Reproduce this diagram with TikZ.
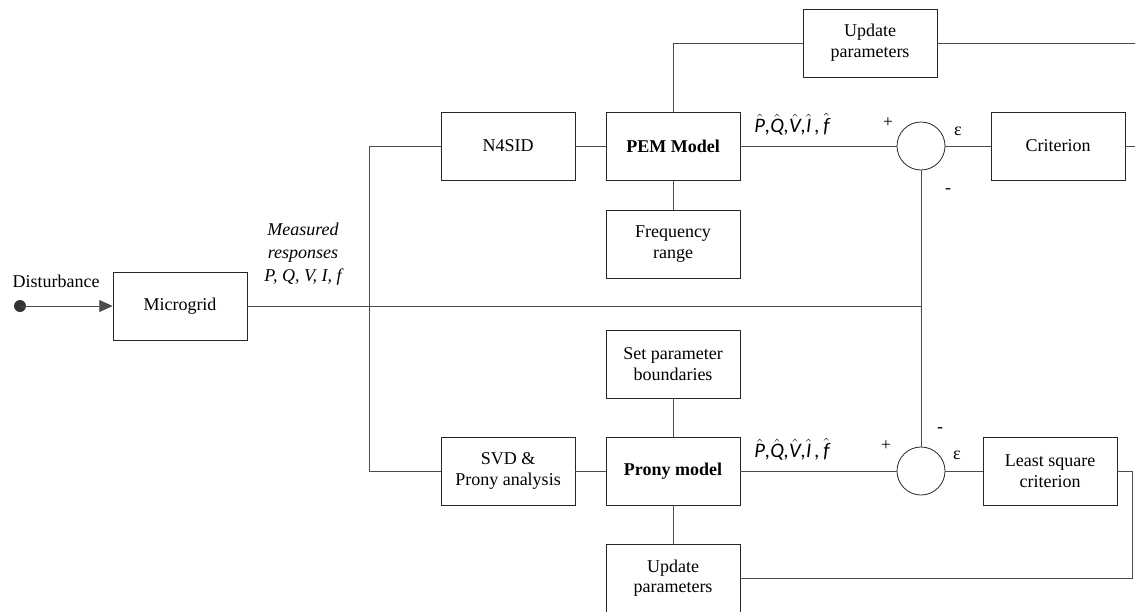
\documentclass[tikz,border=0pt]{standalone}
\usepackage{fontspec}
\setmainfont{Liberation Serif}
\newfontfamily\calfont{Carlito}
\usetikzlibrary{calc, positioning}
\usetikzlibrary{arrows.meta}
\newcommand{\hatch}[1]{$\hat{\mbox{#1}}$}

\begin{document}
\begin{tikzpicture}[x=0.75pt, y=-0.75pt,
  block/.style={draw=black!85, line width=0.6pt, minimum width=100.5pt, minimum height=51pt,
    align=center, inner sep=1pt, font=\fontsize{13.5}{15.5}\selectfont},
  sumnode/.style={draw=black!85, line width=0.6pt, circle, minimum size=36pt, inner sep=0pt},
  link/.style={draw=black!70, line width=0.6pt},
  lbl/.style={font=\fontsize{13.5}{15.5}\selectfont, inner sep=0pt},
  est/.style={font=\fontsize{15.5}{17}\selectfont\calfont\itshape, inner sep=0pt}]
\useasboundingbox (0,0) rectangle (1135,611);

% upper branch
\node[block] (n4sid) at (508,146) {N4SID};
\node[block] (pem) at (673,146) {\textbf{PEM Model}};
\node[block] (updtop) at (870,43) {Update\\parameters};
\node[sumnode] (sumtop) at (921,146) {};
\node[block] (crit) at (1058,146) {Criterion};
\node[block] (freq) at (673,244) {Frequency\\range};

% lower branch
\node[block] (bound) at (673,364) {Set parameter\\boundaries};
\node[block] (svd) at (508,471) {SVD \&\\Prony analysis};
\node[block] (prony) at (673,471) {\textbf{Prony model}};
\node[sumnode] (sumbot) at (921,471) {};
\node[block] (lsq) at (1050,471) {Least square\\criterion};
\node[block] (updbot) at (673,578) {Update\\parameters};

% plant
\node[block] (grid) at (180,306) {Microgrid};
\coordinate (dist) at (20,306);
\coordinate (bustop) at (369,146);
\coordinate (busbot) at (369,471);
\coordinate (outtop) at (1135,43);
\coordinate (outcrit) at (1135,146);
\coordinate (loop) at (1132,578);

\fill[black!80] (dist) circle (6);
\draw[link, -{Triangle[length=10pt, width=9pt]}] (dist) -- (grid.west);
\node[lbl] (distlbl) at (56,281) {Disturbance};
\node[lbl, align=center, font=\fontsize{13.5}{17}\selectfont\itshape] (meas) at (303,254)
  {Measured\\responses\\P, Q, V, I, f};

\draw[link] (grid.east) -- (grid.east -| sumtop.south);
\draw[link] (n4sid.west) -- (bustop) -- (busbot) -- (svd.west);
\draw[link] (n4sid) -- (pem);
\draw[link] (svd) -- (prony);
\draw[link] (pem.north) |- (updtop.west);
\draw[link] (updtop.east) -- (outtop);
\draw[link] (pem) -- (freq);
\draw[link] (bound) -- (prony);
\draw[link] (prony) -- (updbot);
\draw[link] (pem.east) -- (sumtop.west);
\draw[link] (prony.east) -- (sumbot.west);
\draw[link] (sumtop.east) -- (crit.west);
\draw[link] (crit.east) -- (outcrit);
\draw[link] (sumbot.east) -- (lsq.west);
\draw[link] (sumtop.south) -- (sumbot.north);
\draw[link] (updbot.east) -- (loop) |- (lsq.east);

% signal labels
\node[est] (esttop) at (792,124)
  {\hatch{P},\hatch{Q},\hatch{V},\hatch{I}\,,\,\hatch{f}};
\node[est] (estbot) at (792,449)
  {\hatch{P},\hatch{Q},\hatch{V},\hatch{I}\,,\,\hatch{f}};
\node[lbl, font=\fontsize{13}{15}\selectfont] (ptop) at (888,123) {+};
\node[lbl, font=\fontsize{13}{15}\selectfont] (pbot) at (886,446) {+};
\node[lbl] (etop) at (958,131) {ε};
\node[lbl] (ebot) at (957,455) {ε};
\node[lbl] (mtop) at (948,191) {-};
\node[lbl] (mbot) at (940,430) {-};
\end{tikzpicture}
\end{document}
